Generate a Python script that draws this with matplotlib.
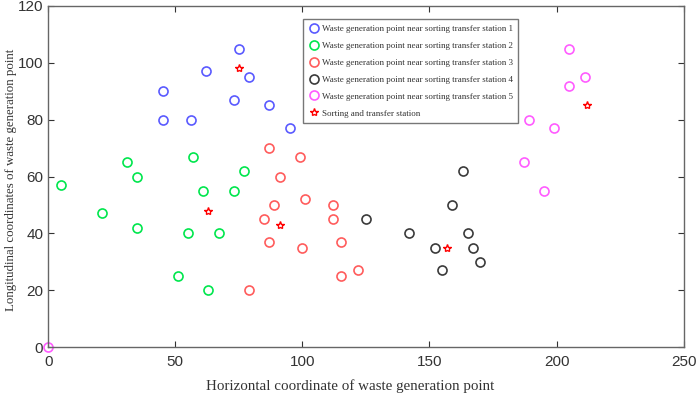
import matplotlib
matplotlib.use("Agg")
import matplotlib.pyplot as plt

# waste generation points grouped by their sorting transfer station
s1_x = [45, 45, 56, 62, 75, 79, 73, 87, 95]
s1_y = [90, 80, 80, 97, 105, 95, 87, 85, 77]
s2_x = [5, 21, 31, 35, 35, 57, 61, 73, 77, 55, 67, 51, 63]
s2_y = [57, 47, 65, 60, 42, 67, 55, 55, 62, 40, 40, 25, 20]
s3_x = [87, 99, 91, 101, 89, 85, 112, 112, 87, 100, 115, 115, 122, 79]
s3_y = [70, 67, 60, 52, 50, 45, 50, 45, 37, 35, 37, 25, 27, 20]
s4_x = [125, 142, 152, 155, 159, 163, 165, 167, 170]
s4_y = [45, 40, 35, 27, 50, 62, 40, 35, 30]
s5_x = [0, 187, 189, 195, 199, 205, 205, 211]
s5_y = [0, 65, 80, 55, 77, 105, 92, 95]

# sorting and transfer stations
st_x = [75, 63, 91, 157, 212]
st_y = [98, 48, 43, 35, 85]

labels = ["Waste generation point near sorting transfer station %d" % i for i in range(1, 6)]
colors = ["#5a5aff", "#00e64d", "#ff5c5c", "#3a3a3a", "#ff5cff"]

fig = plt.figure(figsize=(6.99, 3.94), dpi=100)
ax = fig.add_axes([0.069, 0.119, 0.909, 0.866])

groups = [(s1_x, s1_y), (s2_x, s2_y), (s3_x, s3_y), (s4_x, s4_y), (s5_x, s5_y)]
for (gx, gy), c, lab in zip(groups, colors, labels):
    ax.plot(gx, gy, linestyle="none", marker="o", markersize=6.5,
            markerfacecolor="none", markeredgecolor=c, markeredgewidth=1.2,
            label=lab, clip_on=False)

ax.plot(st_x, st_y, linestyle="none", marker="*", markersize=6,
        markerfacecolor="none", markeredgecolor="red", markeredgewidth=1.0,
        label="Sorting and transfer station")

ax.set_xlim(0, 250)
ax.set_ylim(0, 120)
ax.set_xticks([0, 50, 100, 150, 200, 250])
ax.set_yticks([0, 20, 40, 60, 80, 100, 120])
ax.tick_params(direction="in", top=True, right=True, labelsize=11,
               colors="#333333", length=4, width=0.8)
ax.tick_params(axis="x", pad=6)
for lbl in ax.get_xticklabels() + ax.get_yticklabels():
    lbl.set_fontfamily("Liberation Sans")
for sp in ax.spines.values():
    sp.set_color("#666666")
    sp.set_linewidth(1.0)

ax.set_xlabel("Horizontal coordinate of waste generation point",
              fontfamily="Liberation Serif", fontsize=10.8, color="#333333")
ax.xaxis.set_label_coords(0.475, -0.095)
ax.set_ylabel("Longitudinal coordinates of waste generation point",
              fontfamily="Liberation Serif", fontsize=9.3, color="#333333")
ax.yaxis.set_label_coords(-0.049, 0.49)

leg = ax.legend(loc="upper left", bbox_to_anchor=(0.394, 0.974),
                prop={"family": "Liberation Serif", "size": 6.5},
                frameon=True, fancybox=False, edgecolor="#555555",
                borderpad=0.6, labelspacing=0.95, handletextpad=0.3,
                handlelength=1.2)
leg.get_frame().set_linewidth(1.0)
for t in leg.get_texts():
    t.set_color("#333333")

fig.savefig("out.png", dpi=100)
